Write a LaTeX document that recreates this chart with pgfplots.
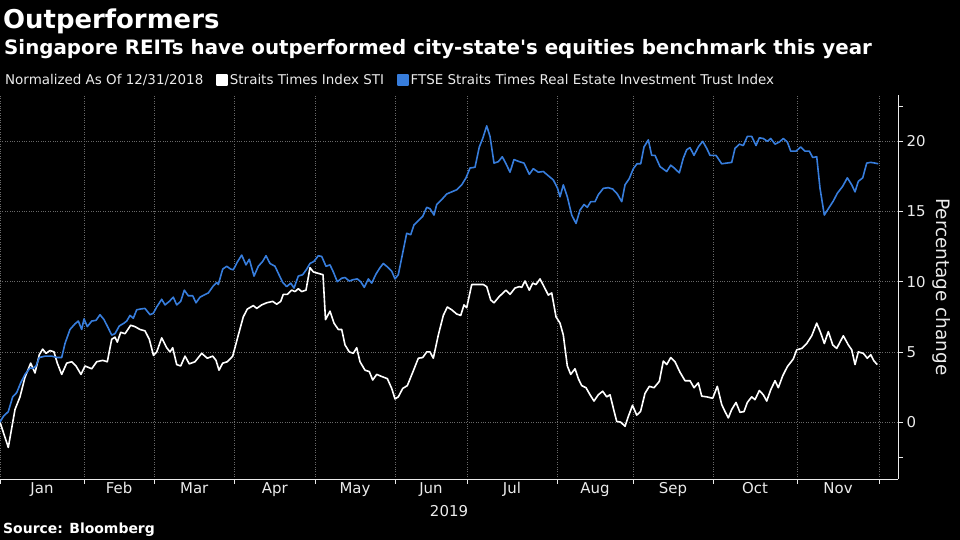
\documentclass[border=0pt]{standalone}
\usepackage{fontspec}
\setmainfont{DejaVu Sans}
\usepackage{pgfplots}
\pgfplotsset{compat=1.18}
\definecolor{reit}{RGB}{55,125,220}
\definecolor{gridc}{RGB}{105,105,105}
\definecolor{txt}{RGB}{235,235,235}

\pgfplotstableread{
x y
0 0.0
8.3 -1.8
15 0.9
20 1.8
25 3.2
30.7 4.2
35 3.5
39.3 4.8
42.7 5.2
46 4.9
50 5.1
54 5.0
57.3 4.2
61.7 3.4
66.7 4.2
71.7 4.3
76 4.0
81 3.4
85 4.0
91.7 3.8
96.7 4.3
102.7 4.4
107.3 4.3
111.7 5.9
115 6.05
117.3 5.7
120.7 6.4
125 6.3
130.7 6.9
135 6.8
140 6.6
145 6.5
149.3 5.9
153.5 4.75
156.7 5.0
161.7 6.0
166.7 5.3
170 5.0
172.7 5.3
176.7 4.1
180.7 4.0
185 4.7
189.3 4.15
195 4.3
201.7 4.9
207.3 4.55
212.7 4.7
216 4.4
219 3.7
222.7 4.2
227.3 4.3
232.7 4.7
238.3 6.2
243.3 7.5
247.3 8.05
253.3 8.3
256.7 8.1
261.7 8.35
266.7 8.5
272.7 8.6
276.7 8.4
280.7 8.6
283.3 9.1
287.3 9.1
291.7 9.4
295 9.3
298.3 9.5
301.7 9.3
306 9.4
310 11.0
313.3 10.7
318 10.6
323 10.5
325.5 7.3
330 7.9
334 7.05
338.3 6.6
341.7 6.6
345 5.5
349.3 5.0
353.3 4.9
356.7 5.3
360 4.3
365 3.7
369.3 3.6
372.7 3.0
376.7 3.4
381.7 3.25
387.3 3.1
391.7 2.4
395 1.65
398.3 1.8
402.7 2.4
407.3 2.6
413.3 3.65
418.3 4.55
422.7 4.6
426.7 5.0
430 5.0
433.3 4.55
438.3 6.2
443.3 7.6
447.3 8.2
451.7 8.0
456.7 7.7
460.7 7.6
464 8.35
466.7 8.15
471.7 9.8
478.3 9.8
483.3 9.8
486.7 9.65
490.7 8.7
494 8.5
499.3 8.95
506 9.4
510 9.1
515 9.55
519.3 9.65
521.7 9.6
525 10.05
529.3 9.4
532.7 9.9
536 9.8
540 10.2
544 9.65
548.3 9.05
551.7 9.2
556 7.5
560 7.05
563.3 6.2
567.3 4.0
570.7 3.4
575 3.8
578.3 3.1
581.7 2.6
586 2.45
590 1.95
594 1.5
598.3 1.95
602.7 2.2
606.7 1.8
610 1.95
614 0.8
616.7 0.05
620.7 0.0
625 -0.3
628.3 0.4
632.5 1.2
636.7 0.5
640.5 0.75
645 2.05
649.3 2.55
654 2.45
659.3 2.9
663.3 4.35
666.7 4.1
670.7 4.6
675 4.3
680 3.55
685 2.95
690 2.95
694 2.45
698.3 2.8
701.7 1.85
706.7 1.8
712.7 1.7
717.3 2.55
721.7 1.25
725 0.75
728.3 0.3
731.7 0.9
736 1.4
740 0.7
744 0.75
747.3 1.4
751.7 1.8
755 1.6
759.3 2.25
763.3 1.95
766.7 1.5
770.7 2.3
775 2.95
778.3 2.45
782.7 3.3
787.3 3.95
793.3 4.5
796.7 5.15
801.7 5.25
806.7 5.6
811.7 6.15
816.7 7.05
820.7 6.35
824.3 5.6
828.3 6.45
832.7 5.5
836.7 5.25
843.3 6.15
848.3 5.5
851.7 5.15
855 4.1
858.3 5.0
863.3 4.9
867.3 4.55
870.7 4.8
874 4.35
877.3 4.1
}\sti

\pgfplotstableread{
x y
0 0.0
3.3 0.4
8.3 0.75
12.7 1.8
16.7 2.1
20.7 2.8
25 3.4
30 3.85
33.3 3.85
36 4.0
39.3 4.6
45 4.7
51.7 4.7
57.3 4.6
61.7 4.6
65 5.6
70 6.6
75 7.0
78.3 7.2
81.7 6.6
84 7.35
87.3 6.8
91.7 7.2
96 7.25
100 7.65
104 7.3
108.3 6.7
111.7 6.2
115 6.3
119.3 6.85
124 7.05
126.7 7.2
130 7.6
133.3 7.4
136.7 8.0
140 8.05
145 8.1
150 7.65
153.3 7.75
156.7 8.2
161.7 8.75
165 8.35
169.3 8.6
173.3 8.9
176.7 8.35
180.7 8.6
184.3 9.4
188.3 9.0
192.7 9.0
196 8.5
200 8.9
204 9.05
208.3 9.2
213.3 9.7
216.7 9.95
218.3 9.8
222.7 10.9
226.7 11.1
230.7 10.9
233.3 10.85
237.3 11.4
241.7 11.9
246 11.2
249.3 11.6
254 10.4
258.3 11.1
262.7 11.45
266 11.85
270 11.3
275 11.1
278.3 10.6
282.7 9.95
286.7 9.65
290.7 9.9
294 9.55
298.3 10.4
302.7 10.5
306.7 10.9
310 11.3
314 11.45
318.3 11.85
321.7 11.8
326 11.1
330 11.2
333.3 10.7
337.3 10.0
341.7 10.25
345 10.3
349.3 10.05
353.3 10.15
357.3 10.2
360.7 10.0
364.3 9.6
368.3 10.2
371.7 9.9
376 10.55
380 11.0
383.3 11.3
388.3 11.0
391.7 10.75
395 10.2
398.3 10.5
401.7 11.7
406.7 13.45
410.7 13.35
414 14.05
418.3 14.35
422.7 14.65
426.7 15.3
430 15.2
434 14.75
436.7 15.5
441.7 15.85
446.7 16.25
451.7 16.4
456.7 16.55
461.7 16.9
466 17.4
470 18.1
475 18.15
479.3 19.6
482.7 20.2
486.7 21.1
490 20.35
494 18.45
498.3 18.55
502.3 18.9
506 18.4
510 17.8
514 18.7
519.3 18.55
524 18.45
529.3 17.65
533.3 18.05
538.3 17.8
543.3 17.85
548.3 17.55
553.3 17.25
557.3 16.7
560 16.05
563.3 16.9
567.3 16.05
571.7 14.75
576 14.15
580 15.1
584 15.5
587.3 15.3
590.7 15.7
595 15.7
598.3 16.2
603.3 16.65
608.3 16.7
612.7 16.6
617.3 16.25
621.7 15.7
625 16.9
629.3 17.35
633.3 18.05
637 18.4
640.7 18.4
644 19.6
648.3 20.1
651.7 19.0
655 19.0
660 18.2
666.7 17.85
670.7 18.3
675 18.05
679.3 17.75
683.3 18.8
686.7 19.4
690 19.55
694 19.0
698.3 19.6
702.7 20.0
706.7 19.5
710 19.0
716 19.0
721.7 18.4
726.7 18.45
731.7 18.5
735 19.5
739.3 19.8
743.3 19.7
747.3 20.35
751.7 20.35
756 19.7
759.3 20.25
763.3 20.2
767.3 20.0
770.7 20.2
775 19.8
779.3 19.95
783.3 20.2
787.3 19.95
790.7 19.3
796 19.3
800.7 19.6
805 19.3
809.3 19.3
812.7 18.85
816.7 18.9
820 16.65
824.3 14.75
828.3 15.2
833.3 15.75
837.3 16.3
842.7 16.8
847.3 17.4
851.7 16.9
855 16.4
858.3 17.15
862.7 17.4
866.7 18.45
870.7 18.5
875 18.45
878.3 18.4
}\reits

\begin{document}
\begin{tikzpicture}[x=1bp,y=1bp]
\fill[black] (0,0) rectangle (960,540);
\useasboundingbox (0,0) rectangle (960,540);
\node[anchor=base west, text=white, inner sep=0, font=\fontsize{26}{30}\selectfont\bfseries] at (3,511) {Outperformers};
\node[anchor=base west, text=white, inner sep=0, font=\fontsize{19.9}{23}\selectfont\bfseries] at (4,485) {Singapore REITs have outperformed city-state\textquotesingle s equities benchmark this year};
\node[anchor=base west, text=white, inner sep=0, font=\fontsize{14}{16}\selectfont\bfseries] at (3,6) {Source: Bloomberg};
\begin{axis}[
  at={(0bp,61bp)}, anchor=south west,
  scale only axis, width=898bp, height=384bp,
  xmin=0, xmax=898, ymin=-4.05, ymax=23.3,
  axis x line*=bottom, axis y line*=right,
  axis line style={txt, line width=0.8bp},
  tick align=outside,
  major tick length=5bp, minor tick length=5bp,
  tick style={txt, line width=0.8bp},
  xtick={0,84,154,234.5,315,395,467,557,633,713,797,879},
  xticklabels={},
  extra x ticks={42,119,194.25,274.75,355,431,512,595,673,755,838},
  extra x tick labels={Jan,Feb,Mar,Apr,May,Jun,Jul,Aug,Sep,Oct,Nov},
  extra x tick style={major tick length=0pt, grid=none},
  ytick={0,5,10,15,20},
  minor ytick={-2.5,22.5},
  grid=major,
  major grid style={gridc, dotted, line width=0.7bp},
  ticklabel style={text=txt, font=\fontsize{15}{17}\selectfont},
  /pgf/number format/assume math mode=true,
  xlabel={2019},
  xlabel style={text=txt, font=\fontsize{15}{17}\selectfont, yshift=3bp},
  ylabel={Percentage change},
  ylabel style={text=txt, font=\fontsize{18.5}{20}\selectfont, rotate=180},
  legend columns=-1,
  legend style={draw=none, fill=none, text=txt, font=\fontsize{13.5}{15}\selectfont,
    at={(axis description cs:0,1)}, anchor=west, yshift=15bp, xshift=3bp,
    inner sep=0pt, /tikz/every even column/.append style={column sep=11bp}},
  legend image code/.code={\fill[#1] (0bp,-5bp) rectangle (10bp,5bp);},
  clip=false,
]
\addlegendimage{empty legend}
\addlegendentry{Normalized As Of 12/31/2018}
\addplot[white, line width=1.6bp, line join=round] table[x=x,y=y] {\sti};
\addlegendentry{Straits Times Index STI}
\addplot[reit, line width=1.6bp, line join=round] table[x=x,y=y] {\reits};
\addlegendentry{FTSE Straits Times Real Estate Investment Trust Index}
\end{axis}
\end{tikzpicture}
\end{document}
